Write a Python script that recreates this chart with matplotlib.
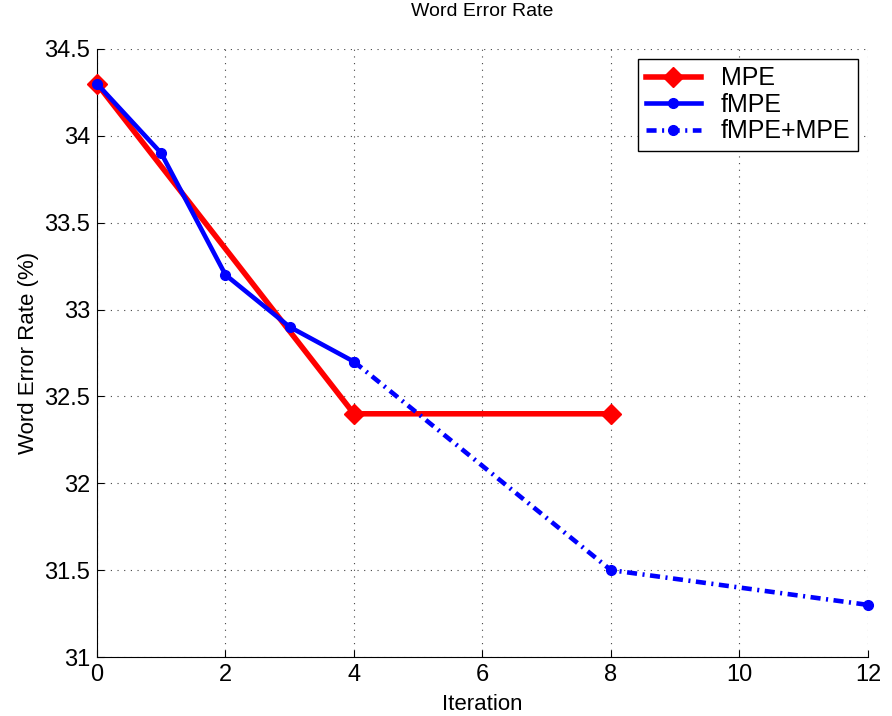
import matplotlib
matplotlib.use("Agg")
import matplotlib.pyplot as plt

plt.rcParams['font.family'] = ['Liberation Sans', 'DejaVu Sans']

mpe_x = [0, 4, 8]
mpe_y = [34.3, 32.4, 32.4]
fmpe_x = [0, 1, 2, 3, 4]
fmpe_y = [34.3, 33.9, 33.2, 32.9, 32.7]
comb_x = [4, 8, 12]
comb_y = [32.7, 31.5, 31.3]

fig = plt.figure(figsize=(8.92, 7.16), dpi=100)
ax = fig.add_axes([0.1087, 0.0824, 0.8643, 0.8492])

ax.plot(mpe_x, mpe_y, color='red', lw=4, marker='D', ms=10, label='MPE', zorder=3, clip_on=False)
ax.plot(fmpe_x, fmpe_y, color='blue', lw=3.3, marker='o', ms=7, label='fMPE', zorder=4, clip_on=False)
ax.plot(comb_x, comb_y, color='blue', lw=3.3, ls='-.', marker='o', ms=7, label='fMPE+MPE',
        dashes=(2.2, 1.2, 0.45, 1.2), zorder=4, clip_on=False)

ax.set_xlim(0, 12)
ax.set_ylim(31, 34.5)
ax.set_xticks([0, 2, 4, 6, 8, 10, 12])
ax.set_yticks([31, 31.5, 32, 32.5, 33, 33.5, 34, 34.5])
ax.set_yticklabels(['31', '31.5', '32', '32.5', '33', '33.5', '34', '34.5'])
ax.grid(True, ls=(0, (1, 5)), color='#444444', lw=0.8)
ax.tick_params(direction='in', labelsize=17, length=5, pad=5)
for s in ['top', 'right']:
    ax.spines[s].set_visible(False)

ax.set_title('Word Error Rate', fontsize=14, pad=24)
ax.set_xlabel('Iteration', fontsize=16, labelpad=6)
ax.set_ylabel('Word Error Rate (%)', fontsize=16, labelpad=4)

leg = ax.legend(loc='upper right', fontsize=18, fancybox=False, framealpha=1,
                edgecolor='black', handlelength=2.2, borderpad=0.3, labelspacing=0.1,
                borderaxespad=0.4)
leg.get_frame().set_linewidth(1)

fig.savefig('out.png', dpi=100)
